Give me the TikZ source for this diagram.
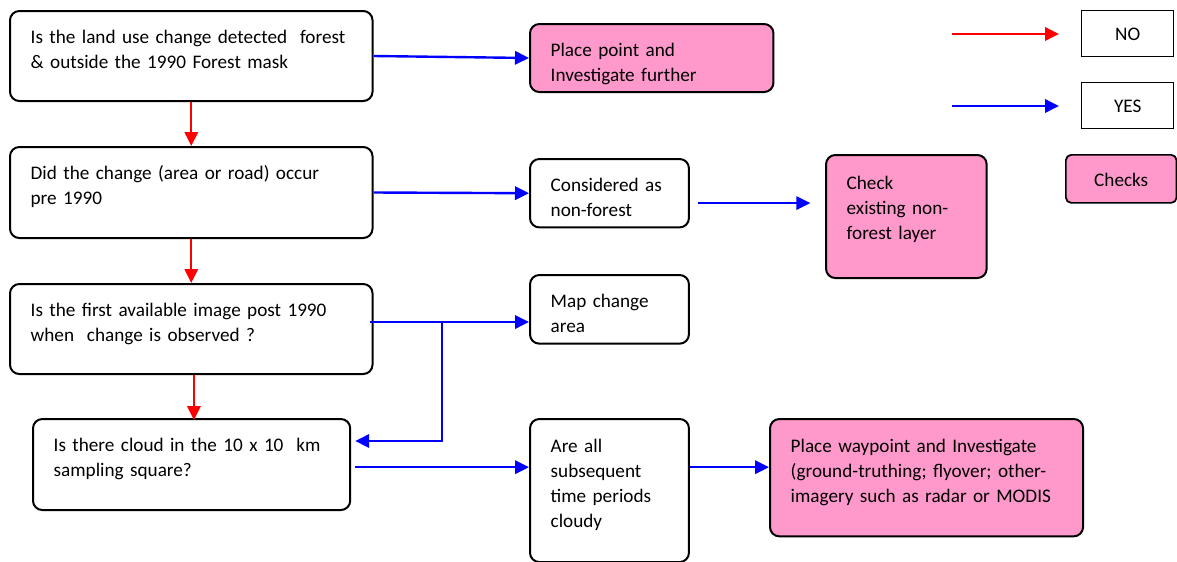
\documentclass[tikz,border=0pt]{standalone}
\usepackage{fontspec}
\setmainfont{Carlito}
\usepackage{tikz}
\usetikzlibrary{arrows.meta}
\usepackage{xcolor}
\definecolor{boxpink}{RGB}{255,153,204}

\begin{document}
\begin{tikzpicture}[
    x=0.75pt,y=-0.75pt,
    box/.style={draw,line width=1.5pt,rounded corners=7pt,anchor=north west,
                align=left,inner xsep=15.5pt,inner ysep=0pt,text height=24pt,
                font=\fontsize{14.4pt}{18.75pt}\selectfont},
    pinkbox/.style={box,fill=boxpink},
    keybox/.style={draw,line width=1.1pt,anchor=north west,align=left,inner xsep=15pt,
                   inner ysep=0pt,text height=22pt,font=\fontsize{14.4pt}{18.75pt}\selectfont},
    yes/.style={->,blue,line width=1.8pt},
    no/.style={->,red,line width=1.8pt},
    >={Triangle[length=10.5pt,width=10pt]}
  ]
    \useasboundingbox (0,0) rectangle (1177,561);

    % questions on the left
    \node[box,text width=240.9pt,text depth=43.5pt] (q1) at (9,10)
      {Is the land use change detected\ \ forest\\ \& outside the 1990 Forest mask};
    \node[box,text width=240.9pt,text depth=44.25pt] (q2) at (9,146)
      {Did the change (area or road) occur\\ pre 1990};
    \node[box,text width=240.9pt,text depth=43.5pt] (q3) at (9,283)
      {Is the first available image post 1990\\ when\ \ change is observed ?};
    \node[box,text width=206.9pt,text depth=44.25pt] (q4) at (32,418)
      {Is there cloud in the 10 x 10\ \ km\\ sampling square?};

    % outcomes
    \node[pinkbox,text width=151.6pt,text depth=27pt] (place) at (529,23)
      {Place point and\\ Investigate further};
    \node[box,text width=88.2pt,text depth=27.3pt] (nonfor) at (529,158)
      {Considered as\\ non-forest};
    \node[pinkbox,text width=89.5pt,text depth=66.75pt,text height=25.5pt] (layer) at (825,154)
      {Check\\ existing non-\\ forest layer};
    \node[box,text width=88.2pt,text depth=27.5pt] (map) at (529,274)
      {Map change\\ area};
    \node[box,text width=88.2pt,text depth=82.3pt,text height=25pt] (cloudy) at (529,418)
      {Are all\\ subsequent\\ time periods\\ cloudy};
    \node[pinkbox,text width=203.8pt,text depth=63pt,text height=25pt] (waypt) at (769,418)
      {Place waypoint and Investigate\\ (ground-truthing; flyover; other-\\ imagery such as radar or MODIS};

    % key
    \node[keybox,minimum width=69pt,text depth=12.3pt] (nokey) at (1081,10) {NO};
    \node[keybox,minimum width=69pt,text depth=12.5pt] (yeskey) at (1081,82) {YES};
    \node[keybox,fill=boxpink,rounded corners=4pt,line width=1.3pt,minimum width=83pt,
          text depth=12pt,inner xsep=15.5pt,text height=24pt] (chkkey) at (1065,154) {Checks};
    \coordinate (nostart) at (952,34);
    \coordinate (yesstart) at (952,106);
    \draw[no] (nostart) -- (nostart -| 1059,0);
    \draw[yes] (yesstart) -- (yesstart -| 1059,0);

    % NO branch
    \draw[no] (q1.south) -- (q2.north);
    \draw[no] (q2.south) -- (q3.north);
    \draw[no] ([xshift=2pt]q3.south) -- ([xshift=2pt,yshift=-1.5pt]q3.south |- q4.north);

    % YES branch
    \draw[yes] (q1.east) -- (place.west);
    \draw[yes] (q2.east) -- (nonfor.west);
    \draw[yes,shorten <=6pt,shorten >=11pt] ([yshift=-7.4pt]nonfor.east)
      -- ([yshift=-7.4pt]nonfor.east -| layer.west);
    \coordinate (split) at (442,322);
    \draw[yes] ([xshift=-3pt]q3.east |- split) -- (split -| map.west);
    \draw[yes] (split) |- ([xshift=3pt]q4.east |- 0,441);
    \draw[yes] ([xshift=3pt,yshift=-2pt]q4.east) -- ([yshift=-2pt]q4.east -| cloudy.west);
    \draw[yes] ([yshift=-2pt]q4.east -| cloudy.east) -- ([yshift=-2pt]q4.east -| waypt.west);
  \end{tikzpicture}
\end{document}
